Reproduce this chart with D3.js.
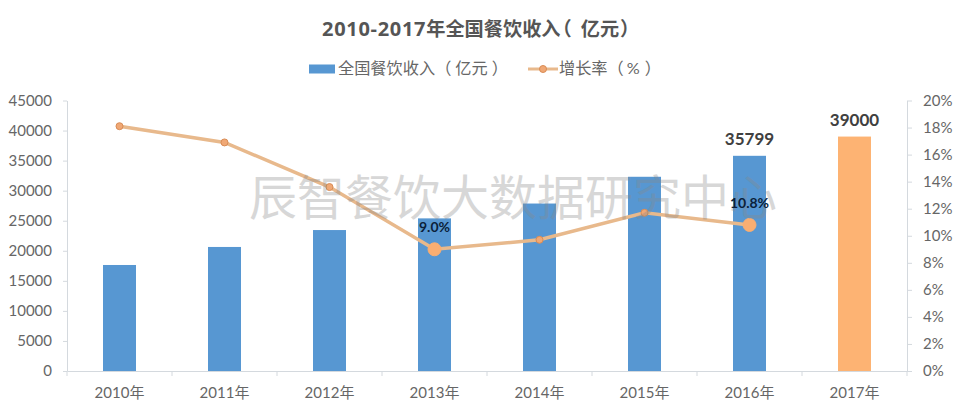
<!DOCTYPE html>
<html><head><meta charset="utf-8">
<script src="https://cdn.jsdelivr.net/npm/d3@7"></script>
<style>
html,body{margin:0;padding:0;background:#fff}
svg{display:block}
text{font-family:Lato,"Noto Sans CJK SC",sans-serif}
</style></head><body><div id="c"></div>
<script>
const categories=["2010年","2011年","2012年","2013年","2014年","2015年","2016年","2017年"];
const revenue=[17636,20635,23448,25392,27860,32310,35799,39000];
const growth=[18.1,16.9,13.6,9.0,9.7,11.7,10.8,null];
const leftTicks=[0,5000,10000,15000,20000,25000,30000,35000,40000,45000];
const rightTicks=[0,2,4,6,8,10,12,14,16,18,20];
const barLabels={"2016年":"35799","2017年":"39000"};
const lineLabels={"2013年":"9.0%","2016年":"10.8%"};
const bigMarkers=["2013年","2016年"];
const titleParts=["2010-2017","年全国餐饮收入","（","亿元","）"];
const legendBarParts=["全国餐饮收入","（","亿元","）"];
const legendLineParts=["增长率","（","%","）"];
const watermark="辰智餐饮大数据研究中心";

const W=960,H=412,L=67,R=907,T=100.5,B=371;
const svg=d3.select("#c").append("svg").attr("width",W).attr("height",H);
const x=d3.scaleBand().domain(categories).range([L,R]);
const yL=d3.scaleLinear().domain([0,45000]).range([B,T]);
const yR=d3.scaleLinear().domain([0,20]).range([B,T]);
const barW=33;
const axisC="#d4d9de",tickC="#666";

function style(g,size){
  g.selectAll("path.domain,line").attr("stroke",axisC).attr("stroke-width",1);
  g.selectAll("text").attr("fill",tickC).attr("font-size",size);
}
svg.append("g").attr("transform",`translate(${L},0)`)
  .call(d3.axisLeft(yL).tickValues(leftTicks).tickFormat(d3.format("d")).tickSize(4).tickSizeOuter(0).tickPadding(11)).call(style,15);
svg.append("g").attr("transform",`translate(${R},0)`)
  .call(d3.axisRight(yR).tickValues(rightTicks).tickFormat(d=>d+"%").tickSize(5).tickSizeOuter(0).tickPadding(11)).call(style,15);
const xg=svg.append("g").attr("transform",`translate(0,${B})`)
  .call(d3.axisBottom(x).tickSize(0).tickPadding(16)).call(style,15);
xg.selectAll("g.sep").data(d3.range(categories.length+1)).enter().append("line")
  .attr("x1",i=>L+i*x.step()).attr("x2",i=>L+i*x.step()).attr("y1",0).attr("y2",5).attr("stroke",axisC);

svg.selectAll("rect.bar").data(categories).enter().append("rect").attr("class","bar")
  .attr("x",d=>x(d)+x.bandwidth()/2-barW/2).attr("width",barW)
  .attr("y",(d,i)=>yL(revenue[i])).attr("height",(d,i)=>B-yL(revenue[i]))
  .attr("fill",(d,i)=>i===7?"#fdb373":"#5797d2");

const cx=d=>x(d)+x.bandwidth()/2;
const pts=categories.map((c,i)=>({c,v:growth[i]})).filter(p=>p.v!=null);
const line=d3.line().x(p=>cx(p.c)).y(p=>yR(p.v));
svg.append("path").attr("d",line(pts)).attr("fill","none").attr("stroke","#e8b98c").attr("stroke-width",3.5);
svg.selectAll("circle.pt").data(pts).enter().append("circle").attr("class","pt")
  .attr("cx",p=>cx(p.c)).attr("cy",p=>yR(p.v))
  .attr("r",p=>bigMarkers.includes(p.c)?6.5:3.5)
  .attr("fill",p=>bigMarkers.includes(p.c)?"#f9ae72":"#f0a875")
  .attr("stroke",p=>bigMarkers.includes(p.c)?"#f9ae72":"#d98c55").attr("stroke-width",1);

svg.append("text").attr("x",513).attr("y",203).attr("text-anchor","middle")
  .attr("dominant-baseline","middle").attr("font-size",48).attr("fill","#888").attr("opacity",.33).text(watermark);

categories.forEach((c,i)=>{
  if(barLabels[c]) svg.append("text").attr("x",cx(c)).attr("y",yL(revenue[i])-11).attr("text-anchor","middle")
    .attr("font-size",17).attr("font-weight",700).attr("fill","#404040").text(barLabels[c]);
  if(lineLabels[c]) svg.append("text").attr("x",cx(c)).attr("y",yR(growth[i])-17).attr("text-anchor","middle")
    .attr("font-size",14).attr("font-weight",700).attr("fill","#0b1f3a").text(lineLabels[c]);
});

function parts(x0,y,size,weight,color,list,dxs){
  const t=svg.append("text").attr("x",x0).attr("y",y).attr("font-size",size).attr("font-weight",weight).attr("fill",color);
  list.forEach((s,i)=>t.append("tspan").attr("dx",dxs[i]).text(s));
  return t;
}
const tt=parts(322,36,19.2,700,"#555",titleParts,[0,0,-8,9,1]);
tt.select("tspan").attr("font-family","'Open Sans'").attr("font-size",20).attr("letter-spacing",.7);

svg.append("rect").attr("x",309).attr("y",64.5).attr("width",26).attr("height",9).attr("fill","#5797d2");
parts(338,74,16.2,400,"#666",legendBarParts,[0,0,4,4]);
svg.append("line").attr("x1",528).attr("x2",558).attr("y1",69).attr("y2",69).attr("stroke","#e8b98c").attr("stroke-width",3);
svg.append("circle").attr("cx",543).attr("cy",69).attr("r",3.5).attr("fill","#f0a875").attr("stroke","#d98c55");
parts(559,74,16.2,400,"#666",legendLineParts,[0,0,3,5]);
</script></body></html>
